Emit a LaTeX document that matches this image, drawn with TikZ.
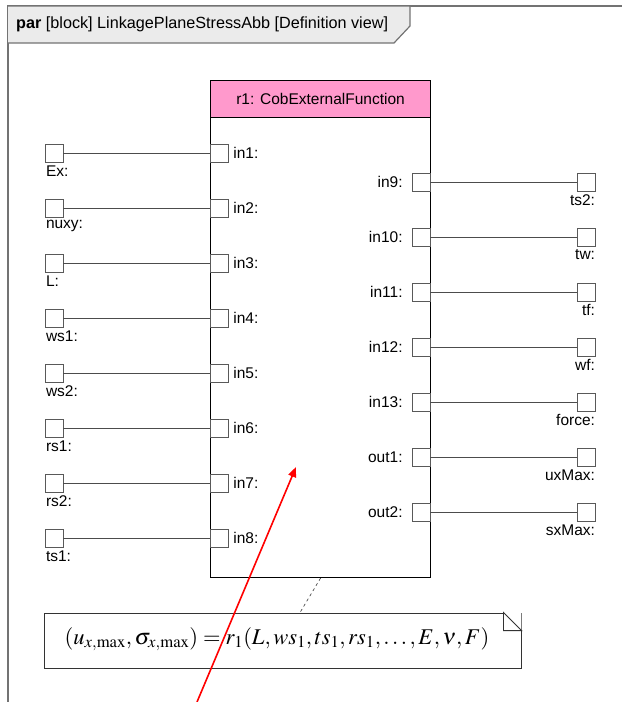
\documentclass[tikz,border=0pt]{standalone}
\usepackage{mathptmx}
\usepackage{fontspec}
\setmainfont{Liberation Sans}
\usetikzlibrary{arrows.meta, positioning, calc}

\definecolor{blockpink}{HTML}{FF99CC}
\definecolor{tabgray}{HTML}{EBEBEB}

\begin{document}
\begin{tikzpicture}[
    x=1pt, y=-1pt,
    font=\fontsize{15.5}{18}\selectfont,
    frameline/.style={draw=black!55, line width=1.2pt},
    block/.style={rectangle, draw=black, line width=1.1pt, minimum width=220pt, minimum height=497pt, inner sep=0pt, fill=white},
    blockhead/.style={rectangle, draw=black, line width=1.1pt, fill=blockpink, minimum width=220pt, minimum height=37pt, inner sep=0pt},
    port/.style={rectangle, draw=black!65, fill=white, minimum size=18pt, inner sep=0pt},
    link/.style={draw=black!70, line width=0.9pt},
    note/.style={rectangle, draw=black!80, line width=0.9pt, fill=white, minimum width=477pt, minimum height=55pt, inner sep=0pt},
    pointer/.style={-{Triangle[length=10pt, width=8pt]}, red, line width=1.6pt}
]
\useasboundingbox (0,0) rectangle (622,702);

% frame and tab
\draw[frameline] (8,702) -- (8,6) -- (622,6);
\draw[frameline, fill=tabgray] (8,6) -- (410,6) -- (410,26) -- (394,43) -- (8,43);
\node[anchor=west, inner sep=0pt, font=\fontsize{16.2}{19}\selectfont] (title) at (16,24) {\textbf{par} [block] LinkagePlaneStressAbb [Definition view]};

% block
\node[block, anchor=north west] (r1) at (210,80) {};
\node[blockhead, anchor=north] (r1head) at (r1.north) {r1: CobExternalFunction};

% left ports
\foreach \i/\ext/\nm [count=\k from 0] in {1/Ex/ex, 2/nuxy/nuxy, 3/L/len, 4/ws1/wsa, 5/ws2/wsb, 6/rs1/rsa, 7/rs2/rsb, 8/ts1/tsa} {
    \node[port] (in\i) at (219,153+55*\k) {};
    \node[anchor=west, inner sep=0pt] (in\i lbl) at ([xshift=5pt]in\i.east) {in\i:};
    \node[port] (\nm) at (54,153+55*\k) {};
    \node[anchor=north west, inner sep=0pt] (\nm lbl) at ([xshift=1pt, yshift=-3pt]\nm.south west) {\ext:};
    \draw[link] (\nm) -- (in\i);
}

% right ports
\foreach \p/\ext/\nm [count=\k from 0] in {in9/ts2/tsb, in10/tw/tw, in11/tf/tf, in12/wf/wf, in13/force/force, out1/uxMax/uxmax, out2/sxMax/sxmax} {
    \node[port] (\p) at (421,182+55*\k) {};
    \node[anchor=east, inner sep=0pt] (\p lbl) at ([xshift=-9pt]\p.west) {\p:};
    \node[port] (\nm) at (586,182+55*\k) {};
    \node[anchor=north east, inner sep=0pt] (\nm lbl) at ([yshift=-3pt]\nm.south east) {\ext:};
    \draw[link] (\p) -- (\nm);
}

% constraint note
\node[note] (eqnote) at (282.5,640.5) {};
\fill[white] ([xshift=-18pt]eqnote.north east) -- (eqnote.north east) -- ([yshift=-18pt]eqnote.north east) -- cycle;
\draw[draw=black!80, line width=0.9pt] ([xshift=-18pt]eqnote.north east) -- ([xshift=-18pt, yshift=-18pt]eqnote.north east) -- ([yshift=-18pt]eqnote.north east) -- cycle;
\node (eqn) at (277,639) {\fontsize{22.5}{27}\selectfont $(u_{x,\max},\sigma_{x,\max}) = r_1(L, ws_1, ts_1, rs_1, \ldots, E, \nu, F)$};
\draw[draw=black!80, dashed, line width=0.6pt] (r1.south) -- ([xshift=17.5pt]eqnote.north);

% pointer
\coordinate (ptrtail) at (197,702);
\coordinate (ptrtip) at (296,467);
\draw[pointer] (ptrtail) -- (ptrtip);

\end{tikzpicture}
\end{document}
